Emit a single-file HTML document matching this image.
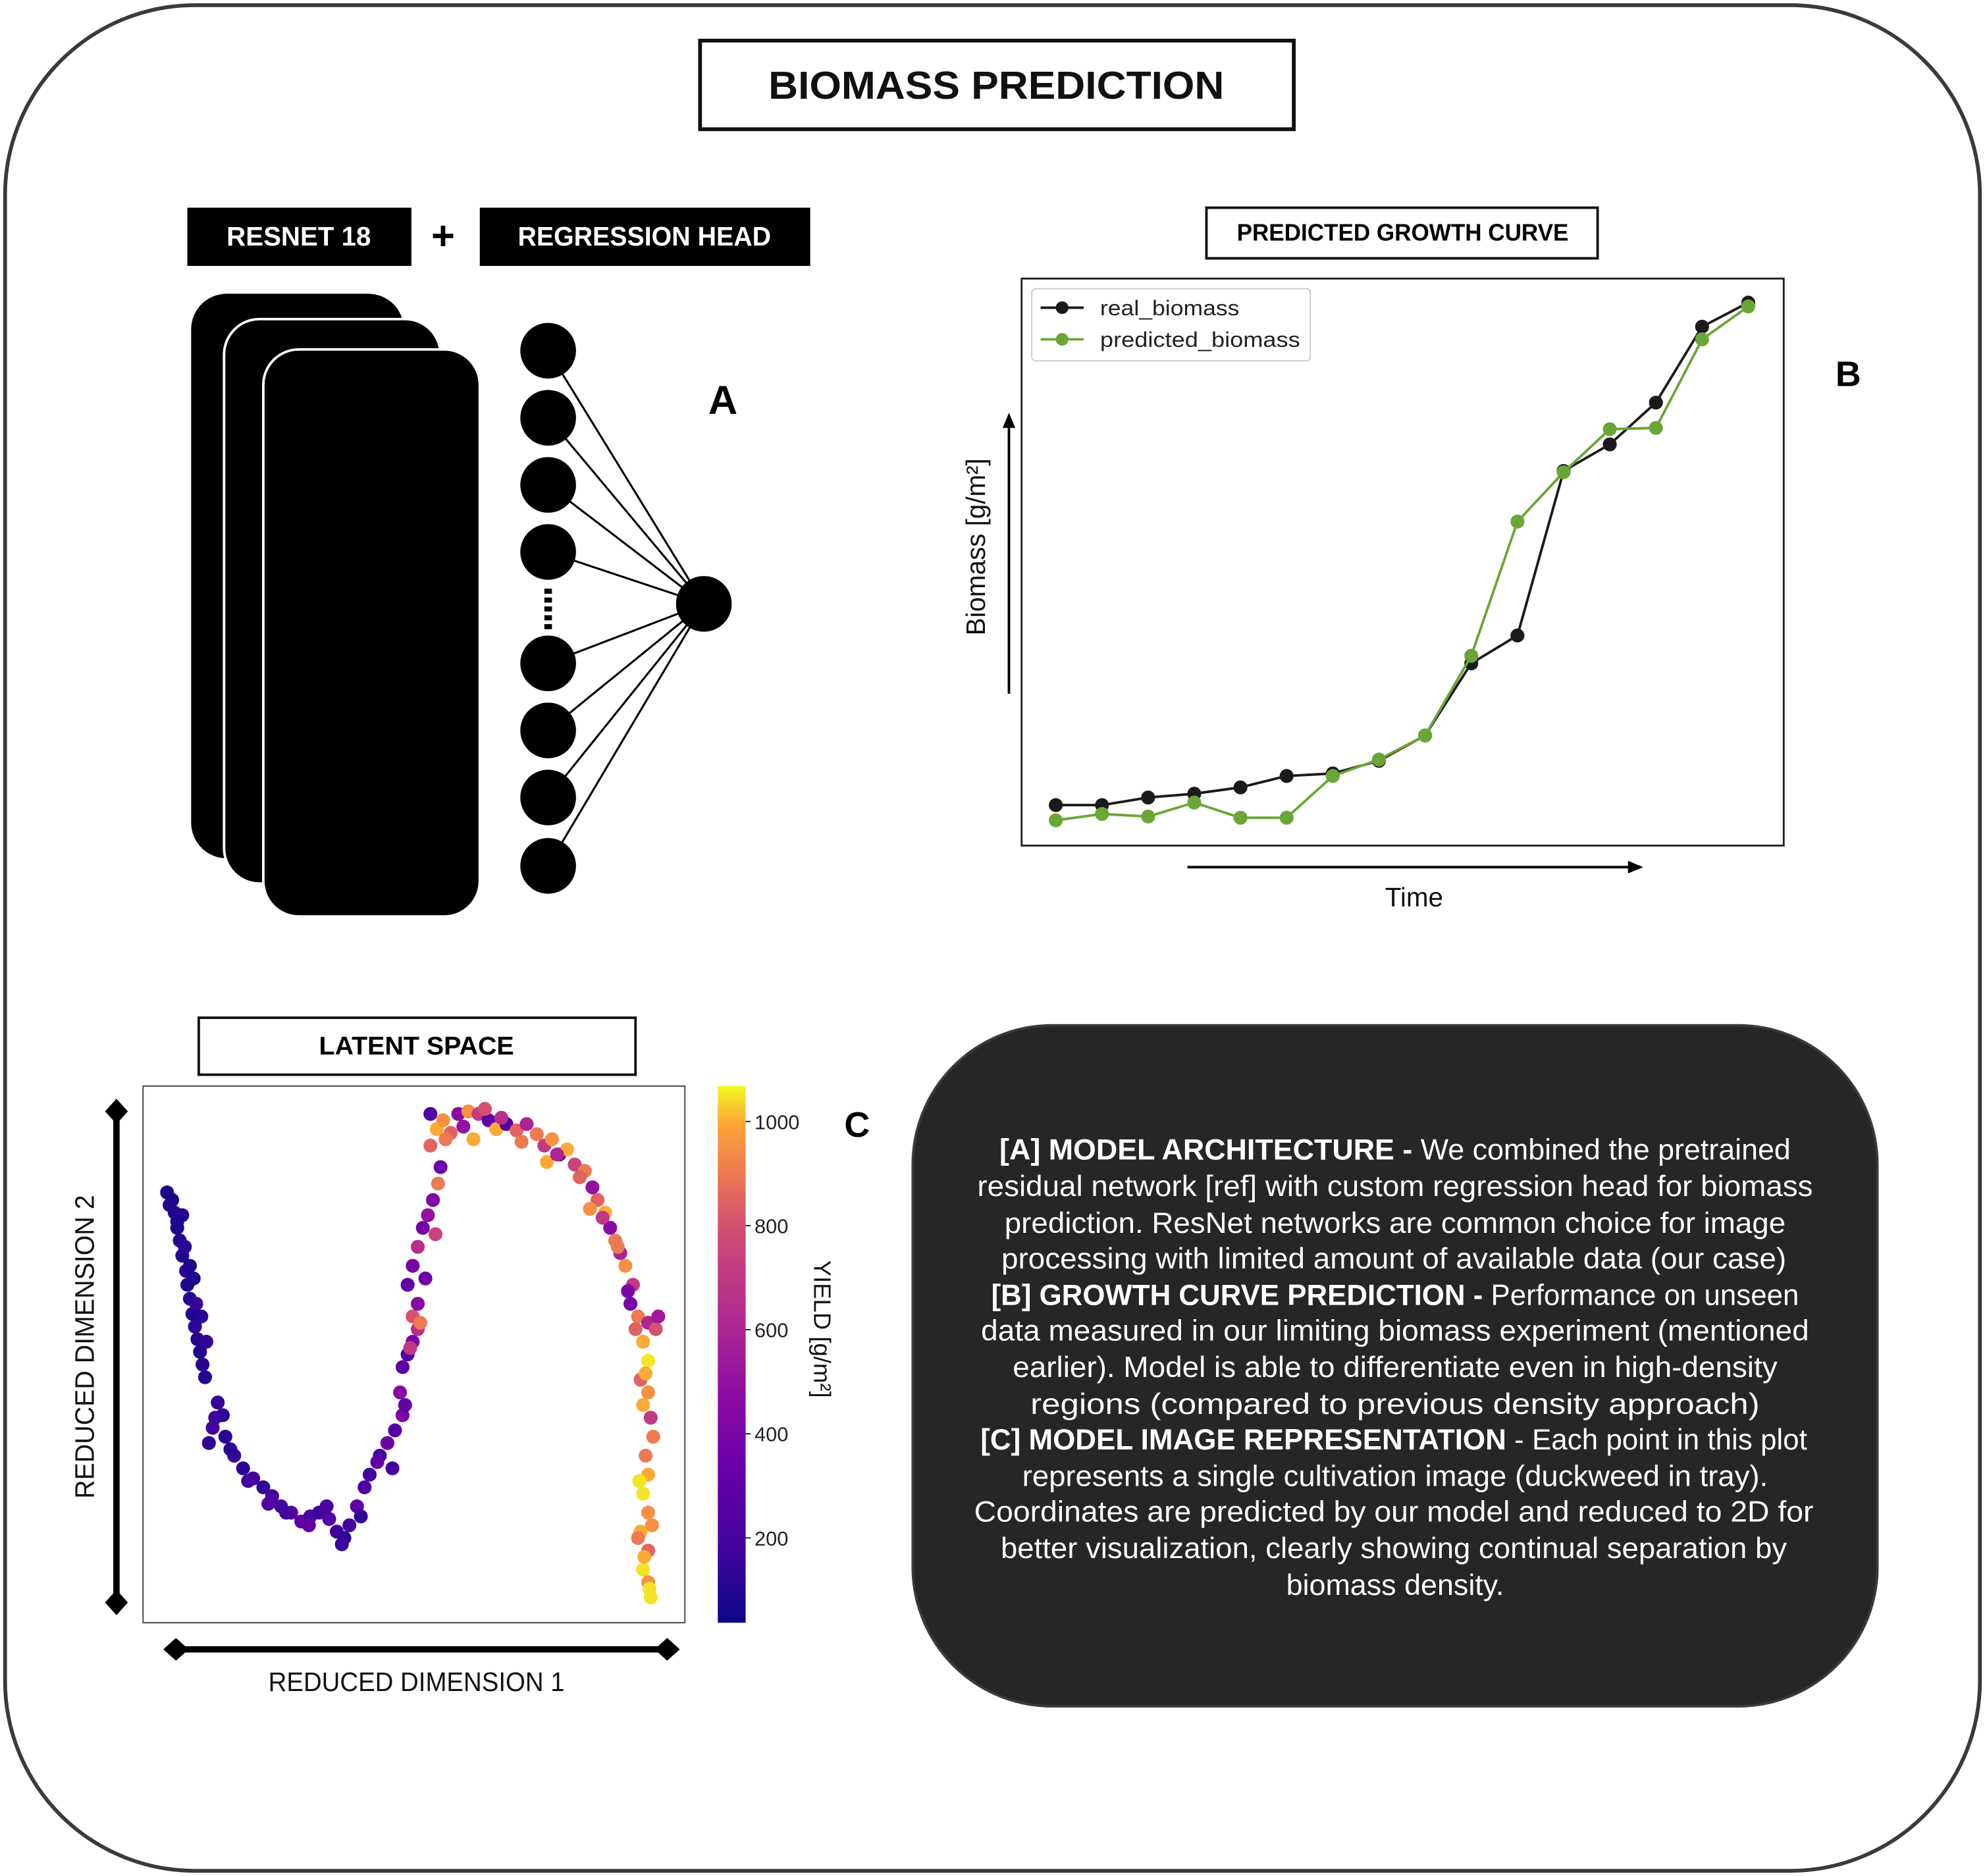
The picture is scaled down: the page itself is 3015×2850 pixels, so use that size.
<!DOCTYPE html>
<html><head><meta charset="utf-8"><style>
html,body{margin:0;padding:0;background:#fff}
svg{display:block}
text{font-family:"Liberation Sans",sans-serif}
</style></head><body>
<svg id="root" width="3015" height="2850" viewBox="0 0 1568 1482" xmlns="http://www.w3.org/2000/svg">
<rect x="4" y="4" width="1560" height="1474" rx="150" fill="#fff" stroke="#3a3a3a" stroke-width="3"/>
<rect x="553" y="32" width="469" height="70" fill="#fff" stroke="#111" stroke-width="3"/>
<text x="787" y="78" text-anchor="middle" font-size="31" font-weight="bold" textLength="360" lengthAdjust="spacingAndGlyphs" fill="#111">BIOMASS PREDICTION</text>

<!-- Panel A -->
<rect x="148" y="164" width="177" height="46" fill="#000"/>
<text x="236" y="194" text-anchor="middle" font-size="21" font-weight="bold" fill="#fff" textLength="114" lengthAdjust="spacingAndGlyphs">RESNET 18</text>
<text x="350" y="197" text-anchor="middle" font-size="32" font-weight="bold" fill="#000">+</text>
<rect x="379" y="164" width="261" height="46" fill="#000"/>
<text x="509" y="194" text-anchor="middle" font-size="21" font-weight="bold" fill="#fff" textLength="200" lengthAdjust="spacingAndGlyphs">REGRESSION HEAD</text>
<rect x="151" y="232" width="168" height="446" rx="28" fill="#000"/>
<rect x="177" y="252" width="171" height="446" rx="28" fill="#000" stroke="#fff" stroke-width="2"/>
<rect x="208" y="276" width="171" height="448" rx="28" fill="#000" stroke="#fff" stroke-width="2"/>
<g id="nn"></g>
<text x="571" y="327" text-anchor="middle" font-size="32" font-weight="bold">A</text>

<!-- Panel B -->
<rect x="953" y="164" width="309" height="40" fill="#fff" stroke="#111" stroke-width="2"/>
<text x="1108" y="190" text-anchor="middle" font-size="19" font-weight="bold" textLength="262" lengthAdjust="spacingAndGlyphs">PREDICTED GROWTH CURVE</text>
<text x="1460" y="305" text-anchor="middle" font-size="28" font-weight="bold">B</text>
<rect x="807" y="220" width="602" height="448" fill="#fff" stroke="#222" stroke-width="1.5"/>
<g id="growth"></g>
<rect x="815" y="228" width="220" height="57" rx="3" fill="#fff" stroke="#ccc" stroke-width="1"/>
<line x1="822" y1="243" x2="856" y2="243" stroke="#1a1a1a" stroke-width="2"/>
<circle cx="839" cy="243" r="5" fill="#1a1a1a"/>
<text x="869" y="249" font-size="17" fill="#222" textLength="110" lengthAdjust="spacingAndGlyphs">real_biomass</text>
<line x1="822" y1="268" x2="856" y2="268" stroke="#6aa637" stroke-width="2"/>
<circle cx="839" cy="268" r="5" fill="#6aa637"/>
<text x="869" y="274" font-size="17" fill="#222" textLength="158" lengthAdjust="spacingAndGlyphs">predicted_biomass</text>
<line x1="797" y1="548" x2="797" y2="334" stroke="#000" stroke-width="2"/>
<polygon points="797,326 792,338 802,338" fill="#000"/>
<text transform="translate(778,432) rotate(-90)" text-anchor="middle" font-size="21" fill="#111">Biomass [g/m²]</text>
<line x1="938" y1="685" x2="1290" y2="685" stroke="#000" stroke-width="2"/>
<polygon points="1298,685 1286,680 1286,690" fill="#000"/>
<text x="1117" y="716" text-anchor="middle" font-size="21" fill="#111">Time</text>

<!-- Panel C -->
<rect x="157" y="804" width="345" height="45" fill="#fff" stroke="#111" stroke-width="2"/>
<text x="329" y="833" text-anchor="middle" font-size="20" font-weight="bold" textLength="154" lengthAdjust="spacingAndGlyphs">LATENT SPACE</text>
<rect x="113" y="858" width="428" height="424" fill="#fff" stroke="#444" stroke-width="1"/>
<g id="scatter"></g>
<defs><linearGradient id="plasma" x1="0" y1="1" x2="0" y2="0">
<stop offset="0" stop-color="#0d0887"/><stop offset="0.14" stop-color="#41049d"/><stop offset="0.29" stop-color="#6a00a8"/><stop offset="0.43" stop-color="#8f0da4"/><stop offset="0.57" stop-color="#b12a90"/><stop offset="0.71" stop-color="#cc4778"/><stop offset="0.79" stop-color="#e16462"/><stop offset="0.86" stop-color="#f2844b"/><stop offset="0.93" stop-color="#fca636"/><stop offset="1" stop-color="#f0f921"/></linearGradient></defs>
<rect x="567" y="858" width="22" height="424" fill="url(#plasma)"/>
<g id="cbticks"></g>
<text transform="translate(643,1050) rotate(90)" text-anchor="middle" font-size="19" fill="#111">YIELD  [g/m²]</text>
<text x="677" y="898" text-anchor="middle" font-size="28" font-weight="bold">C</text>
<line x1="92" y1="880" x2="92" y2="1264" stroke="#000" stroke-width="5"/>
<polygon points="92,868 101,878 92,888 83,878" fill="#000"/>
<polygon points="92,1256 101,1266 92,1276 83,1266" fill="#000"/>
<text transform="translate(74,1064) rotate(-90)" text-anchor="middle" font-size="21" fill="#111" textLength="240" lengthAdjust="spacingAndGlyphs">REDUCED DIMENSION 2</text>
<line x1="140" y1="1303" x2="526" y2="1303" stroke="#000" stroke-width="5"/>
<polygon points="129,1303 139,1294 149,1303 139,1312" fill="#000"/>
<polygon points="517,1303 527,1294 537,1303 527,1312" fill="#000"/>
<text x="329" y="1336" text-anchor="middle" font-size="21" fill="#111" textLength="234" lengthAdjust="spacingAndGlyphs">REDUCED DIMENSION 1</text>

<!-- Description box -->
<rect x="721" y="810" width="762" height="538" rx="110" fill="#262626" stroke="#3a3a3a" stroke-width="2"/>
<g fill="#fff" font-size="23" text-anchor="middle">
<text x="1102" y="916" textLength="625" lengthAdjust="spacingAndGlyphs"><tspan font-weight="bold">[A] MODEL ARCHITECTURE - </tspan>We combined the pretrained</text>
<text x="1102" y="945" textLength="660" lengthAdjust="spacingAndGlyphs">residual network [ref] with custom regression head for biomass</text>
<text x="1102" y="974" textLength="617" lengthAdjust="spacingAndGlyphs">prediction. ResNet networks are common choice for image</text>
<text x="1101" y="1002" textLength="620" lengthAdjust="spacingAndGlyphs">processing with limited amount of available data (our case)</text>
<text x="1102" y="1031" textLength="638" lengthAdjust="spacingAndGlyphs"><tspan font-weight="bold">[B] GROWTH CURVE PREDICTION - </tspan>Performance on unseen</text>
<text x="1102" y="1059" textLength="654" lengthAdjust="spacingAndGlyphs">data measured in our limiting biomass experiment (mentioned</text>
<text x="1102" y="1088" textLength="604" lengthAdjust="spacingAndGlyphs">earlier). Model is able to differentiate even in high-density</text>
<text x="1102" y="1117" textLength="576" lengthAdjust="spacingAndGlyphs">regions (compared to previous density approach)</text>
<text x="1101" y="1145" textLength="653" lengthAdjust="spacingAndGlyphs"><tspan font-weight="bold">[C] MODEL IMAGE REPRESENTATION</tspan> - Each point in this plot</text>
<text x="1102" y="1174" textLength="589" lengthAdjust="spacingAndGlyphs">represents a single cultivation image (duckweed in tray).</text>
<text x="1101" y="1202" textLength="663" lengthAdjust="spacingAndGlyphs">Coordinates are predicted by our model and reduced to 2D for</text>
<text x="1101" y="1231" textLength="621" lengthAdjust="spacingAndGlyphs">better visualization, clearly showing continual separation by</text>
<text x="1102" y="1260" textLength="172" lengthAdjust="spacingAndGlyphs">biomass density.</text>
</g>
</svg>
<script>
// ---- Growth chart data ----
const timeSteps = [0,1,2,3,4,5,6,7,8,9,10,11,12,13,14,15];
const realBiomass = [32,32,38,41,46,55,57,67,87,144,166,296,317,350,410,429];
const predictedBiomass = [20,25,23,34,22,22,55,68,87,150,256,295,329,330,400,426];
// ---- Latent space data ----
const latentDim1 = [132,136,138,140,142,144,147,148,150,152,154,156,158,160,162,144,150,155,
172,176,168,165,178,185,192,200,208,215,222,230,238,245,252,260,266,272,276,282,288,292,300,306,312,318,320,310,285,
318,322,326,330,326,330,322,326,330,334,338,342,346,348,340,345,340,350,356,362,370,378,386,392,400,408,416,424,430,436,442,448,454,462,468,472,478,482,486,490,494,500,498,504,512,518,508,512,506,512,508,514,510,512,508,512,506,512,508,512,514,504,
134,140,146,153,159,163,170,182,196,212,226,244,258,270,298,316,324,332,336,344,352,366,374,383,396,412,432,440,458,466,476,488,496,502,520,510,516,505,515,509,513];
const latentDim2 = [942,948,958,970,980,992,1004,1015,1026,1038,1048,1058,1068,1078,1088,960,1000,1030,
1108,1118,1128,1140,1135,1150,1160,1168,1175,1182,1190,1195,1202,1198,1195,1200,1210,1215,1205,1190,1175,1165,1150,1140,1130,1118,1110,1160,1198,
1080,1070,1060,1050,1040,1030,1015,1000,985,970,960,948,935,922,905,892,880,885,895,880,878,880,885,892,888,893,888,896,905,900,912,908,920,925,938,948,958,970,980,990,1000,1015,1030,1040,1045,1050,1060,1075,1090,1100,1110,1120,1150,1165,1180,1195,1210,1225,1240,1250,1262,1215,
952,965,985,1010,1040,1060,1120,1145,1170,1188,1195,1205,1190,1220,1155,1100,1065,1045,1010,975,900,890,900,876,883,902,918,912,930,955,962,985,1020,1050,1040,1085,1135,1170,1205,1230,1255];
const latentYield = [80,60,90,70,100,80,120,90,110,80,130,100,90,120,100,110,70,140,
150,120,200,130,110,150,120,180,150,220,180,260,300,220,160,250,180,130,200,300,250,180,220,350,260,400,300,200,150,
300,250,400,650,800,450,300,400,650,380,500,420,900,350,850,1000,250,950,850,450,950,700,300,1000,250,850,600,900,700,950,400,1000,750,900,500,850,1000,450,900,600,950,700,400,900,600,800,1000,1050,850,950,1000,700,900,1000,1050,950,1000,850,1050,950,1050,900,
100,80,120,90,110,140,160,120,200,250,180,300,220,160,300,450,700,900,350,750,900,500,1000,800,650,900,1000,600,850,950,700,900,400,850,550,1000,900,1050,950,1000,1050];
const cbTicks = [200,400,600,800,1000];

const NS='http://www.w3.org/2000/svg';
function mk(tag, attrs, parent){const e=document.createElementNS(NS,tag);for(const k in attrs)e.setAttribute(k,attrs[k]);parent.appendChild(e);return e;}

// Network
const nn=document.getElementById('nn');
const neuronY=[277,330,383,436,524,577,630,684];
const outX=556,outY=477;
neuronY.forEach((y,i)=>{
  const l=mk('line',{x1:433,y1:y,x2:outX,y2:outY,stroke:'#000','stroke-width':1.6},nn);
  
  
});
neuronY.forEach((y,i)=>{
  const c=mk('circle',{cx:433,cy:y,r:22,fill:'#000'},nn);
  
  
});
for(let k=0;k<5;k++){const d=mk('rect',{x:430,y:465+k*7,width:6,height:4,fill:'#000'},nn);
  
  }
const on=mk('circle',{cx:outX,cy:outY,r:22,fill:'#000'},nn);



// Growth chart
const g=document.getElementById('growth');
const gx=t=>834+t*(1381-834)/15;
const gy=v=>668-v;
function series(vals,color,name){
  const p=mk('polyline',{points:vals.map((v,i)=>gx(timeSteps[i])+','+gy(v)).join(' '),fill:'none',stroke:color,'stroke-width':2},g);
  
  
  vals.forEach((v,i)=>{const c=mk('circle',{cx:gx(timeSteps[i]),cy:gy(v),r:5.5,fill:color},g);
    
    });
}
series(realBiomass,'#1a1a1a','real-biomass');
series(predictedBiomass,'#6aa637','predicted-biomass');

// Colormap
const stops=[[0,[13,8,135]],[0.14,[65,4,157]],[0.29,[106,0,168]],[0.43,[143,13,164]],[0.57,[177,42,144]],[0.71,[204,71,120]],[0.79,[225,100,98]],[0.86,[242,132,75]],[0.93,[252,166,54]],[1,[240,249,33]]];
const yMin=37,yMax=1068;
function cmap(v){let t=Math.max(0,Math.min(1,(v-yMin)/(yMax-yMin)));
  for(let i=1;i<stops.length;i++){if(t<=stops[i][0]){const a=stops[i-1],b=stops[i],f=(t-a[0])/(b[0]-a[0]);
    return 'rgb('+a[1].map((c,j)=>Math.round(c+(b[1][j]-c)*f)).join(',')+')';}}
  return 'rgb(240,249,33)';}
const cbY=v=>1282-(v-yMin)/(yMax-yMin)*424;

const sc=document.getElementById('scatter');
latentDim1.forEach((x,i)=>{
  const c=mk('circle',{cx:x,cy:latentDim2[i],r:5.5,fill:cmap(latentYield[i])},sc);
  
  
});
const cb=document.getElementById('cbticks');
cbTicks.forEach(v=>{
  const l=mk('line',{x1:589,y1:cbY(v),x2:593,y2:cbY(v),stroke:'#222','stroke-width':1},cb);
  
  
  const t=mk('text',{x:596,y:cbY(v)+6,'font-size':16,fill:'#222'},cb);
  t.textContent=v;
  
  
});
</script>
</body></html>
